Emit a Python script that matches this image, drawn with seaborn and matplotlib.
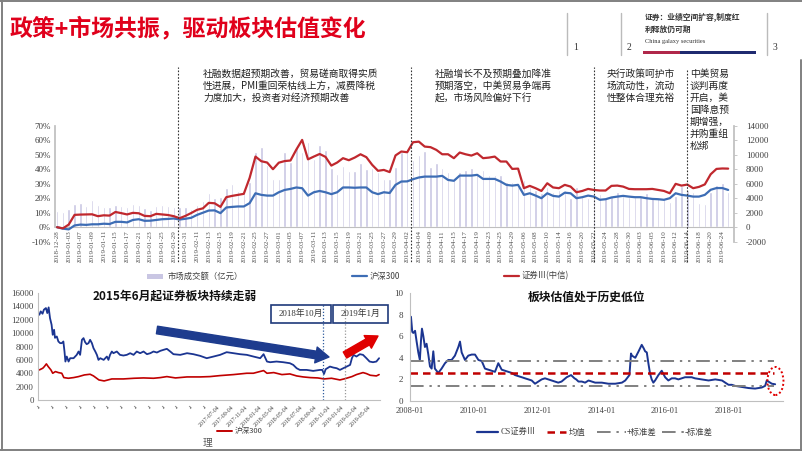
import numpy as np
import pandas as pd
import matplotlib
matplotlib.use("Agg")
import matplotlib.pyplot as plt
import matplotlib.dates as mdates
from matplotlib.patches import Rectangle, Ellipse, FancyArrowPatch
from matplotlib.lines import Line2D
import seaborn as sns

sns.set_theme(style="white")
plt.rcParams['font.family'] = ['Liberation Serif', 'Noto Sans CJK SC', 'DejaVu Sans']
plt.rcParams['axes.unicode_minus'] = False

# ---------------- data: top chart ----------------
holidays = ['2018-12-31', '2019-01-01', '2019-02-04', '2019-02-05', '2019-02-06',
            '2019-02-07', '2019-02-08', '2019-04-05', '2019-05-01', '2019-05-02',
            '2019-05-03', '2019-06-07']
trade_days = [d for d in pd.bdate_range('2018-12-28', '2019-06-25')
              if d.strftime('%Y-%m-%d') not in holidays]

turnover = [2300, 2160, 2530, 3170, 3400, 2940, 3770, 3080, 2850, 2760, 3130, 2990, 2850, 3170, 3030,
            2710, 2390, 2990, 3030, 2940, 2850,
            2800, 2760, 2480, 3080, 3630, 4690, 4090,
            4140, 5400, 6000, 5000, 4800, 6200, 10400, 11000, 8600, 6600, 6600, 10400, 9000, 11000,
            10400, 11800, 9400, 11400, 10600, 8200, 7400, 8400, 7800, 7800, 8800, 8000, 8200, 7600,
            6600, 6600,
            8300, 10440, 10340, 9290, 9980, 10570, 8370, 8830, 8140, 7680, 6850, 7680, 7910, 8140,
            7450, 7910, 7220, 7220, 7220, 6210, 6300, 5610, 6530, 5610, 5150, 4690, 5610, 4920, 5150,
            5150, 4000, 5610, 4230, 4090, 4230, 4550, 4000, 4370, 4830, 4370, 4230, 4180, 4370, 4690,
            4000, 4000, 4000, 3540, 4370, 5750, 5150, 4920, 3310, 3170, 4920, 5840, 6160, 4920]

sec_ret = [0, -0.8, 1.8, 8.5, 8.7, 8.8, 8.9, 7.6, 8.2, 8.0,
           10.5, 9.7, 8.8, 9.9, 9.6, 7.8, 7.6, 9.2, 8.8, 8.4,
           7.6, 6.2, 7.8, 9.8, 12.0, 13.0, 16.8, 16.5, 14.0, 20.7,
           21.6, 22.3, 23.0, 34.0, 48.7, 45.5, 44.6, 40.0, 44.5, 45.6,
           46.0, 53.5, 60.2, 46.8, 48.7, 50.5, 48.5, 42.5, 44.6, 47.6,
           46.2, 48.0, 50.3, 48.3, 43.0, 38.9, 39.5, 38.0, 49.5, 52.2,
           51.7, 58.6, 59.0, 55.6, 55.2, 53.3, 50.3, 50.3, 47.6, 51.5,
           50.3, 49.4, 51.0, 47.6, 48.0, 48.7, 45.3, 45.3, 40.2, 40.4,
           26.9, 28.5, 26.9, 25.0, 30.3, 27.4, 26.9, 29.2, 28.0, 24.1,
           25.0, 26.4, 25.7, 25.3, 25.3, 28.5, 28.7, 28.0, 26.4, 26.2,
           26.2, 26.2, 26.4, 25.7, 25.0, 23.4, 29.9, 28.7, 29.4, 26.9,
           27.8, 29.5, 36.5, 40.2, 40.5, 40.4]

hs300_ret = [0, -1.0, -1.5, 1.2, 1.8, 1.6, 2.0, 2.0, 2.4, 2.2,
             3.7, 3.7, 3.3, 5.0, 5.5, 4.4, 4.5, 5.0, 5.5, 5.7,
             6.0, 5.3, 5.8, 6.5, 8.5, 10.0, 11.5, 11.6, 9.7, 13.6,
             14.0, 14.3, 14.3, 16.6, 23.4, 22.3, 21.8, 21.8, 24.1, 25.7,
             26.4, 27.4, 26.9, 21.8, 24.1, 25.0, 24.1, 22.8, 24.1, 27.4,
             27.4, 27.2, 27.4, 27.4, 24.1, 22.8, 24.1, 23.6, 29.2, 31.5,
             31.6, 33.1, 34.3, 34.9, 34.9, 34.9, 35.4, 32.6, 32.0, 35.6,
             35.6, 35.6, 36.1, 33.3, 33.3, 33.3, 31.5, 29.2, 28.7, 29.2,
             22.3, 23.4, 21.8, 20.0, 23.4, 21.6, 21.1, 23.8, 23.4, 20.0,
             20.7, 21.8, 21.1, 18.9, 19.3, 20.5, 21.1, 21.6, 21.1, 20.7,
             20.7, 20.0, 19.5, 19.3, 18.9, 20.0, 23.4, 22.3, 21.8, 21.1,
             21.1, 22.3, 25.8, 27.0, 27.0, 25.7]

event_pos = [20.8, 60.6, 92.0, 108.0]
event_top = [67, 67, 67, 70]
notes = [
    (203, ["社融数据超预期改善，贸易磋商取得实质", "性进展，PMI重回荣枯线上方，减费降税", "力度加大，投资者对经济预期改善"]),
    (435, ["社融增长不及预期叠加降准", "预期落空，中美贸易争端再", "起，市场风险偏好下行"]),
    (607, ["央行政策呵护市", "场流动性，流动", "性整体合理充裕"]),
    (690, ["中美贸易", "谈判再度", "开启，美", "国降息预", "期增强，", "并购重组", "松绑"]),
]

# ---------------- data: bottom-left chart ----------------
sec_idx_dates = ['2015-05-10', '2015-05-16', '2015-05-24', '2015-05-30', '2015-06-08', '2015-06-14',
                 '2015-06-20', '2015-06-26', '2015-07-03', '2015-07-08', '2015-07-14', '2015-07-18',
                 '2015-07-26', '2015-08-02', '2015-08-10', '2015-08-17', '2015-08-24', '2015-08-29',
                 '2015-09-02', '2015-09-08', '2015-09-16', '2015-09-23', '2015-10-08', '2015-10-22',
                 '2015-10-30', '2015-11-06', '2015-11-14', '2015-11-21', '2015-11-28', '2015-12-05',
                 '2015-12-13', '2015-12-20', '2015-12-28', '2016-01-04', '2016-01-12', '2016-01-19',
                 '2016-01-26', '2016-02-03', '2016-02-18', '2016-03-03', '2016-03-10', '2016-03-17',
                 '2016-03-25', '2016-04-01', '2016-04-16', '2016-04-30', '2016-05-15', '2016-05-30',
                 '2016-06-14', '2016-06-29', '2016-07-13', '2016-07-28', '2016-08-12', '2016-08-27',
                 '2016-09-11', '2016-09-25', '2016-10-10', '2016-10-25', '2016-11-08', '2016-11-23',
                 '2016-12-08', '2016-12-22', '2017-01-21', '2017-02-20', '2017-03-20', '2017-04-19',
                 '2017-05-18', '2017-06-17', '2017-07-16', '2017-08-14', '2017-09-13', '2017-10-12',
                 '2017-11-11', '2017-12-10', '2018-01-09', '2018-01-24', '2018-02-08', '2018-02-22',
                 '2018-03-22', '2018-04-21', '2018-05-20', '2018-06-04', '2018-06-19', '2018-07-03',
                 '2018-08-02', '2018-08-31', '2018-09-30', '2018-10-10', '2018-10-18', '2018-10-25',
                 '2018-11-13', '2018-11-28', '2018-12-13', '2018-12-27', '2019-01-11', '2019-01-26',
                 '2019-02-10', '2019-02-18', '2019-02-25', '2019-03-10', '2019-03-25', '2019-04-08',
                 '2019-04-23', '2019-05-07', '2019-05-22', '2019-06-06', '2019-06-18']
sec_idx_vals = [12750, 13250, 12900, 13500, 13750, 13000, 13850, 12250, 11250, 9750, 10500, 9300,
                9500, 8750, 8500, 8500, 8750, 7250, 5750, 6500, 5750, 6250, 6250, 6750,
                7250, 6750, 9000, 9250, 8650, 8350, 8500, 9000, 8500, 7750, 7250, 6750,
                6000, 6250, 6000, 6500, 6000, 6750, 7250, 7000, 7250, 6750, 6650, 6750,
                7000, 6750, 7250, 7000, 7250, 6850, 7000, 7250, 7100, 7350, 7500, 7650,
                7250, 6850, 6750, 7000, 6850, 6600, 6250, 6500, 6750, 7150, 7000, 6850,
                6750, 6500, 6250, 6850, 5750, 5650, 5750, 5650, 5500, 5250, 4750, 4500,
                4500, 4350, 4500, 4500, 3900, 4600, 5000, 4850, 4750, 4500, 4750, 5000,
                5250, 6250, 6750, 6500, 6850, 6750, 6250, 5750, 5650, 5750, 6250]

hs_lvl_dates = ['2015-05-10', '2015-05-25', '2015-06-01', '2015-06-10', '2015-06-18', '2015-06-30',
                '2015-07-08', '2015-07-20', '2015-08-02', '2015-08-17', '2015-08-26', '2015-09-15',
                '2015-10-08', '2015-10-30', '2015-11-25', '2015-12-20', '2016-01-04', '2016-01-28',
                '2016-02-20', '2016-03-25', '2016-05-15', '2016-07-01', '2016-08-12', '2016-09-25',
                '2016-10-25', '2016-11-23', '2016-12-31', '2017-02-20', '2017-04-19', '2017-06-01',
                '2017-07-16', '2017-09-13', '2017-11-11', '2017-12-10', '2018-01-24', '2018-02-08',
                '2018-03-10', '2018-04-15', '2018-05-20', '2018-06-19', '2018-07-18', '2018-08-18',
                '2018-09-20', '2018-10-18', '2018-11-20', '2018-12-27', '2019-01-20', '2019-02-18',
                '2019-03-10', '2019-04-08', '2019-04-23', '2019-05-10', '2019-06-06', '2019-06-18']
hs_lvl_vals = [4500, 4750, 5000, 5400, 5000, 4500, 4000, 4250, 4100, 4000, 3350, 3250,
               3350, 3500, 3750, 3850, 3600, 3000, 2850, 3150, 3150, 3250, 3300, 3250,
               3350, 3500, 3300, 3450, 3450, 3500, 3650, 3800, 4000, 4000, 4400, 4000,
               4100, 3800, 3900, 3600, 3450, 3350, 3300, 3150, 3250, 3000, 3200, 3500,
               3800, 4100, 3950, 3700, 3600, 3800]

# ---------------- data: bottom-right chart ----------------
pb_dates = ['2008-01-02', '2008-01-12', '2008-01-27', '2008-02-08', '2008-02-28', '2008-03-17',
            '2008-04-05', '2008-04-23', '2008-05-06', '2008-05-17', '2008-06-02', '2008-06-20',
            '2008-07-09', '2008-07-29', '2008-08-17', '2008-09-05', '2008-09-24', '2008-10-12',
            '2008-11-20', '2008-12-28', '2009-02-05', '2009-03-15', '2009-04-22', '2009-05-30',
            '2009-07-08', '2009-07-27', '2009-08-15', '2009-09-22', '2009-10-30', '2009-12-08',
            '2010-01-15', '2010-02-23', '2010-04-02', '2010-05-09', '2010-06-17', '2010-07-25',
            '2010-09-01', '2010-10-09', '2010-11-17', '2010-12-25', '2011-02-01', '2011-03-12',
            '2011-04-19', '2011-05-27', '2011-07-05', '2011-08-11', '2011-09-19', '2011-10-27',
            '2011-12-04', '2012-01-11', '2012-02-18', '2012-03-27', '2012-05-04', '2012-06-11',
            '2012-07-19', '2012-08-26', '2012-10-03', '2012-12-01', '2013-01-20', '2013-02-28',
            '2013-03-20', '2013-04-15', '2013-05-23', '2013-06-30', '2013-08-08', '2013-09-15',
            '2013-10-23', '2014-01-07', '2014-03-25', '2014-06-10', '2014-08-26', '2014-10-03',
            '2014-11-20', '2014-12-08', '2014-12-19', '2015-01-26', '2015-03-05', '2015-04-10',
            '2015-05-01', '2015-05-19', '2015-06-07', '2015-06-25', '2015-07-15', '2015-08-02',
            '2015-08-21', '2015-09-10', '2015-10-18', '2015-11-25', '2016-01-03', '2016-02-09',
            '2016-03-19', '2016-04-26', '2016-06-03', '2016-08-18', '2016-11-02', '2016-12-10',
            '2017-02-24', '2017-05-15', '2017-07-31', '2017-10-16', '2017-11-22', '2017-12-30',
            '2018-02-06', '2018-03-15', '2018-05-31', '2018-08-15', '2018-10-30', '2018-12-08',
            '2019-01-15', '2019-02-22', '2019-03-13', '2019-04-01', '2019-05-10', '2019-06-17']
pb_vals = [6.5, 7.8, 6.4, 6.3, 6.5, 5.5, 4.5, 3.8, 5.6, 6.7, 6.0, 5.0,
           5.3, 4.3, 3.2, 3.0, 4.6, 3.0, 2.6, 3.0, 3.5, 3.8, 3.8, 4.2,
           5.0, 5.5, 4.5, 3.8, 4.2, 4.3, 4.3, 3.8, 3.7, 3.0, 2.9, 2.8,
           2.7, 3.5, 2.9, 2.8, 2.7, 2.6, 2.4, 2.3, 2.2, 2.1, 2.0, 1.9,
           1.6, 1.8, 2.0, 2.1, 2.0, 1.9, 1.8, 1.7, 1.8, 2.2, 2.4, 2.1,
           2.0, 1.8, 1.8, 1.7, 1.9, 1.8, 1.7, 1.7, 1.6, 1.6, 1.7, 1.9,
           2.4, 4.4, 4.2, 4.0, 4.6, 5.2, 4.9, 4.6, 4.5, 3.5, 2.5, 2.0,
           1.7, 1.9, 2.4, 2.8, 2.2, 1.9, 2.1, 2.1, 2.0, 2.2, 2.2, 2.1,
           2.0, 1.9, 2.0, 1.9, 1.7, 1.5, 1.5, 1.4, 1.3, 1.2, 1.15, 1.2,
           1.25, 1.4, 1.9, 1.8, 1.6, 1.55]
pb_mean = 2.55
pb_plus_std = 3.68
pb_minus_std = 1.40

# ---------------- figure ----------------
W, H = 802, 451
fig = plt.figure(figsize=(W / 100, H / 100), dpi=100)
fig.patch.set_facecolor('white')


def fx(x):
    return x / W


def fy(y):
    return 1 - y / H


TXT = '#333333'
GRID = '#BFBFBF'
RED = '#C0282E'
BLUE = '#3D6DB5'
LAV = '#C9C6E3'
NAVY = '#1B3591'
CJK = ['Noto Sans CJK SC', 'DejaVu Sans']

# ---- header ----
fig.text(fx(10), fy(29), "政策+市场共振，驱动板块估值变化", fontsize=16.5, fontweight='bold',
         color='#E0001B', family=CJK, va='center', ha='left')
for xv in [567, 621, 767]:
    fig.add_artist(Line2D([fx(xv)] * 2, [fy(13), fy(55)], transform=fig.transFigure,
                          color='#BBBBBB', lw=1.0))
for xv, s in [(573, '1'), (627, '2'), (773, '3')]:
    fig.text(fx(xv), fy(48), s, fontsize=7, color=TXT, va='center', ha='left')
fig.text(fx(645), fy(18), "证券：业绩空间扩容,制度红", fontsize=5.6, fontweight='bold',
         color=TXT, family=CJK, va='center')
fig.text(fx(645), fy(29), "利释放仍可期", fontsize=5.6, fontweight='bold', color=TXT,
         family=CJK, va='center')
fig.text(fx(645), fy(41), "China galaxy securities", fontsize=4.6, color=TXT, va='center')
fig.add_artist(Rectangle((fx(643), fy(53.5)), (680 - 643) / W, 3 / H, transform=fig.transFigure,
                         facecolor='#B0284A', edgecolor='none'))
fig.add_artist(Rectangle((fx(680), fy(53.5)), (756 - 680) / W, 3 / H, transform=fig.transFigure,
                         facecolor='#1F2A70', edgecolor='none'))

# ---- top chart ----
n = len(trade_days)
df_top = pd.DataFrame({'pos': np.arange(n), 'turnover': turnover,
                       'sec': sec_ret, 'hs': hs300_ret})
ax = fig.add_axes([fx(55), fy(241.7), (734 - 55) / W, (241.7 - 125.7) / H])
ax2 = ax.twinx()
ax.set_zorder(ax2.get_zorder() + 1)
ax.patch.set_visible(False)

sns.barplot(data=df_top, x='pos', y='turnover', native_scale=True, color=LAV, saturation=1,
            width=0.42, errorbar=None, ax=ax2)
sns.lineplot(data=df_top, x='pos', y='hs', color=BLUE, lw=1.6, ax=ax)
sns.lineplot(data=df_top, x='pos', y='sec', color=RED, lw=1.6, ax=ax)

for a in (ax, ax2):
    a.set_xlabel('')
    a.set_ylabel('')
    for s in a.spines.values():
        s.set_visible(False)
# category labels hang from the zero line
ax.spines['bottom'].set_position(('data', 0))
ax.spines['left'].set_visible(True)
ax.spines['left'].set_bounds(0, 70)
ax.spines['left'].set_color(GRID)
ax2.spines['right'].set_visible(True)
ax2.spines['right'].set_color(GRID)

ax.set_xlim(-0.35, 116)
ax2.set_xlim(-0.35, 116)
ax.set_ylim(-10, 70)
ax2.set_ylim(-2000, 14000)
ax.set_yticks(range(-10, 71, 10))
ax.set_yticklabels([f"{v}%" for v in range(-10, 71, 10)])
ax2.set_yticks(range(-2000, 14001, 2000))
ax2.set_yticklabels([str(v) for v in range(-2000, 14001, 2000)])
ticks = np.arange(0, n, 2)
ax.set_xticks(ticks)
ax.set_xticklabels([trade_days[i].strftime('%Y-%m-%d') for i in ticks], rotation=90,
                   ha='center', va='top')
ax.axhline(0, color=GRID, lw=0.8, zorder=0.5)
ax.tick_params(axis='y', length=0, pad=3, labelsize=6.5, labelcolor='#404040')
ax.tick_params(axis='x', length=0, pad=2, labelsize=5, labelcolor='#505050')
ax2.tick_params(axis='y', length=2.5, width=0.6, color=GRID, pad=6, labelsize=6.5,
                labelcolor='#404040')
ax2.tick_params(axis='x', length=0, labelbottom=False)

for xp, top in zip(event_pos, event_top):
    ax.axvline(xp, ymin=(241.7 - 265) / 116, ymax=(241.7 - top) / 116, color='#333333',
               lw=0.8, ls=(0, (1.5, 1.5)), clip_on=False)
for x0, lines in notes:
    for k, line in enumerate(lines):
        fig.text(fx(x0), fy(74 + 12 * k), line, fontsize=7, color='#222222', family=CJK,
                 va='center', ha='left')

# cover that cuts the top chart's date labels
fig.add_artist(Rectangle((0, 0), 1, fy(263), transform=fig.transFigure, facecolor='white',
                         edgecolor='none', zorder=1.5))

# top legend
fig.add_artist(Rectangle((fx(147), fy(278.5)), 16 / W, 5 / H, transform=fig.transFigure,
                         facecolor=LAV, edgecolor='none', zorder=3))
fig.text(fx(168), fy(276), "市场成交额（亿元）", fontsize=6, color='#404040', family=CJK,
         va='center', zorder=3)
fig.add_artist(Line2D([fx(352), fx(367)], [fy(276)] * 2, transform=fig.transFigure, color=BLUE,
                      lw=1.6, zorder=3))
fig.text(fx(370), fy(276), "沪深300", fontsize=6, color='#404040', family=CJK, va='center',
         zorder=3)
fig.add_artist(Line2D([fx(504), fx(519)], [fy(276)] * 2, transform=fig.transFigure, color=RED,
                      lw=1.6, zorder=3))
fig.text(fx(522), fy(276), "证券Ⅲ(中信)", fontsize=6, color='#404040', family=CJK, va='center',
         zorder=3)

# ---- bottom-left chart ----
ax3 = fig.add_axes([fx(38), fy(400), (380 - 38) / W, 107 / H], zorder=2)
df_sec = pd.DataFrame({'date': pd.to_datetime(sec_idx_dates), 'v': sec_idx_vals})
df_hs = pd.DataFrame({'date': pd.to_datetime(hs_lvl_dates), 'v': hs_lvl_vals})
sns.lineplot(data=df_sec, x='date', y='v', color=NAVY, lw=1.3, ax=ax3)
sns.lineplot(data=df_hs, x='date', y='v', color='#C00000', lw=1.2, ax=ax3)
ax3.set_xlim(pd.Timestamp('2015-05-04'), pd.Timestamp('2019-06-22'))
ax3.set_ylim(0, 16000)
ax3.set_yticks(range(0, 16001, 2000))
ax3.set_yticklabels([str(v) for v in range(0, 16001, 2000)])
bl_ticks = [pd.Timestamp(2015 + (4 + 2 * k) // 12, (4 + 2 * k) % 12 + 1, 4) for k in range(25)]
ax3.set_xticks(bl_ticks)
ax3.set_xticklabels(['ɹ' if k < 13 else t.strftime('%Y-%m-%d') for k, t in enumerate(bl_ticks)],
                    rotation=45, ha='right', rotation_mode='anchor')
for k, lab in enumerate(ax3.get_xticklabels()):
    if k < 13:
        lab.set_fontfamily('DejaVu Sans')
ax3.set_xlabel('')
ax3.set_ylabel('')
for s in ['top', 'right']:
    ax3.spines[s].set_visible(False)
for s in ['left', 'bottom']:
    ax3.spines[s].set_color(GRID)
    ax3.spines[s].set_linewidth(0.8)
ax3.tick_params(axis='y', length=0, pad=3, labelsize=6.3, labelcolor='#404040')
ax3.tick_params(axis='x', length=2, width=0.6, color=GRID, pad=1.5, labelsize=4.2,
                labelcolor='#404040')
ax3.axvline(pd.Timestamp('2018-10-12'), ymin=0, ymax=(400 - 305) / 107, color='#2F5C9E', lw=0.9,
            ls=(0, (1, 1.5)))
ax3.axvline(pd.Timestamp('2019-01-18'), ymin=0, ymax=(400 - 305) / 107, color='#999999', lw=0.9,
            ls=(0, (1, 1.5)))
fig.text(fx(175), fy(296), "2015年6月起证券板块持续走弱", fontsize=8.5, fontweight='bold',
         color='#111111', family=CJK, ha='center', va='center', zorder=5)
for (x0, x1, s) in [(271, 331, "2018年10月"), (333, 388, "2019年1月")]:
    fig.add_artist(Rectangle((fx(x0), fy(323)), (x1 - x0) / W, 18 / H, transform=fig.transFigure,
                             facecolor='none', edgecolor='#1F3A7A', lw=1.2, zorder=4))
    fig.text(fx((x0 + x1) / 2), fy(314), s, fontsize=6.3, color='#333333', ha='center',
             va='center', zorder=5)
fig.add_artist(FancyArrowPatch((fx(157), fy(330)), (fx(329), fy(357)), transform=fig.transFigure,
                               arrowstyle='simple,tail_width=0.55,head_width=1.15,head_length=0.95',
                               mutation_scale=10, color='#1E3C8E', shrinkA=0, shrinkB=0, zorder=5))
fig.add_artist(FancyArrowPatch((fx(345), fy(355)), (fx(378), fy(336)), transform=fig.transFigure,
                               arrowstyle='simple,tail_width=0.5,head_width=1.05,head_length=0.85',
                               mutation_scale=10, color='#E00000', shrinkA=0, shrinkB=0, zorder=5))
fig.add_artist(Line2D([fx(217), fx(232)], [fy(431)] * 2, transform=fig.transFigure,
                      color='#C00000', lw=1.4, zorder=5))
fig.text(fx(235), fy(431), "沪深300", fontsize=5.5, color='#404040', family=CJK, va='center',
         zorder=5)
fig.text(fx(203), fy(442), "理", fontsize=7, color='#555555', family=CJK, va='center', zorder=5)

# ---- bottom-right chart ----
ax4 = fig.add_axes([fx(410), fy(401), (783 - 410) / W, 108 / H], zorder=2)
df_pb = pd.DataFrame({'date': pd.to_datetime(pb_dates), 'pb': pb_vals})
sns.lineplot(data=df_pb, x='date', y='pb', color=NAVY, lw=1.4, ax=ax4)
ax4.set_xlim(pd.Timestamp('2008-01-01'), pd.Timestamp('2019-09-15'))
ax4.set_ylim(0, 10)
ax4.set_yticks(range(0, 11, 2))
ax4.set_yticklabels([str(v) for v in range(0, 11, 2)])
yrs = [pd.Timestamp(f'{y}-01-01') for y in range(2008, 2019, 2)]
ax4.set_xticks(yrs)
ax4.set_xticklabels([t.strftime('%Y-%m') for t in yrs])
ax4.axhline(pb_mean, xmin=0, xmax=0.975, color='#C00000', lw=1.8, ls=(0, (3, 2)))
for v in (pb_plus_std, pb_minus_std):
    ax4.axhline(v, xmin=0, xmax=0.975, color='#808080', lw=1.4, ls=(0, (7, 3, 1.2, 3, 1.2, 3)))
ell = Ellipse((mdates.date2num(pd.Timestamp('2019-06-20')), 1.85), 185, 2.6, fill=False,
              edgecolor='#E00000', lw=1.4, ls=(0, (1, 1.2)), clip_on=False, zorder=4)
ax4.add_patch(ell)
ax4.set_xlabel('')
ax4.set_ylabel('')
for s in ['top', 'right']:
    ax4.spines[s].set_visible(False)
for s in ['left', 'bottom']:
    ax4.spines[s].set_color(GRID)
    ax4.spines[s].set_linewidth(0.8)
ax4.tick_params(axis='y', length=0, pad=5, labelsize=6.5, labelcolor='#404040')
ax4.tick_params(axis='x', length=2, width=0.6, color=GRID, pad=2, labelsize=6,
                labelcolor='#404040')
fig.text(fx(587), fy(297), "板块估值处于历史低位", fontsize=8.5, fontweight='bold',
         color='#111111', family=CJK, ha='center', va='center', zorder=5)
leg_y = fy(432)
fig.add_artist(Line2D([fx(477), fx(498)], [leg_y] * 2, transform=fig.transFigure, color=NAVY,
                      lw=1.6, zorder=5))
fig.text(fx(501), leg_y, "CS证券Ⅲ", fontsize=6, color='#404040', va='center', zorder=5)
fig.add_artist(Line2D([fx(547), fx(566)], [leg_y] * 2, transform=fig.transFigure, color='#C00000',
                      lw=1.8, ls=(0, (3, 2)), zorder=5))
fig.text(fx(569), leg_y, "均值", fontsize=6, color='#404040', family=CJK, va='center', zorder=5)
fig.add_artist(Line2D([fx(597), fx(626)], [leg_y] * 2, transform=fig.transFigure, color='#808080',
                      lw=1.4, ls=(0, (7, 3, 1.2, 3, 1.2, 3)), zorder=5))
fig.text(fx(627), leg_y, "+标准差", fontsize=6, color='#404040', family=CJK, va='center', zorder=5)
fig.add_artist(Line2D([fx(662), fx(684)], [leg_y] * 2, transform=fig.transFigure, color='#808080',
                      lw=1.4, ls=(0, (7, 3, 1.2, 3, 1.2, 3)), zorder=5))
fig.text(fx(685), leg_y, "-标准差", fontsize=6, color='#404040', family=CJK, va='center', zorder=5)

# ---- slide frame ----
for xs, ys in [([1.5, 1.5], [0, 451]), ([0, 802], [0.7, 0.7]), ([0, 802], [449.5, 449.5]),
               ([800.5, 800.5], [60, 451])]:
    fig.add_artist(Line2D([fx(v) for v in xs], [fy(v) for v in ys], transform=fig.transFigure,
                          color='#808080', lw=1.4, zorder=10))

fig.savefig('out.png', dpi=100, facecolor='white')
